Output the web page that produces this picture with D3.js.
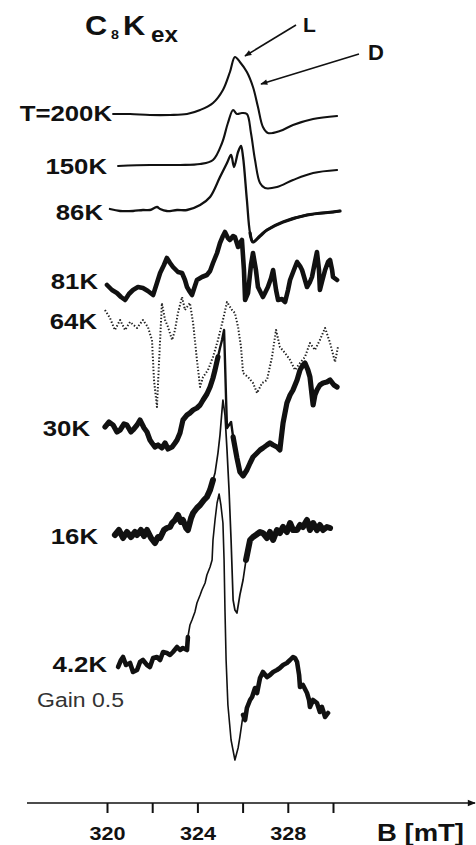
<!DOCTYPE html>
<html>
<head>
<meta charset="utf-8">
<script src="https://cdn.jsdelivr.net/npm/d3@7"></script>
<style>
  html, body { margin: 0; padding: 0; background: #fff; }
  svg { display: block; }
  text { font-family: "Liberation Sans", Arial, Helvetica, sans-serif; fill: #111; }
</style>
</head>
<body>
<svg id="chart" width="476" height="845"></svg>
<script>
// ---- ESR spectra of C8Kex at several temperatures ----
// Each trace: [B (mT), signal (a.u.) relative to its own baseline]

const tempLabels = ["T=200K", "150K", "86K", "81K", "64K", "30K", "16K", "4.2K"];
const baselineOffsets = [67.6, 62.4, 58.0, 50.5, 47.0, 36.3, 25.5, 12.5];

const trace200K = [
  [320.27,0],[321.02,0],[321.90,-0.1],[322.79,-0.1],[323.54,0],[324.12,0.4],[324.69,1.1],
  [325.13,2.4],[325.44,4.2],[325.66,5.7],[325.88,5.2],[326.19,4.2],[326.46,2.7],[326.68,0.7],
  [326.90,-1.3],[327.12,-1.9],[327.65,-1.7],[328.23,-1.1],[329.12,-0.5],[330.18,-0.2]
];

const trace150K = [
  [320.49,0],[321.90,0.1],[323.23,0.1],[324.12,0.2],[324.69,0.6],[325.09,2.3],[325.35,4.3],
  [325.58,5.6],[325.75,5.2],[325.97,5.3],[326.19,5.2],[326.37,3.3],[326.55,0.6],[326.77,-1.7],
  [326.99,-2.2],[327.52,-2.1],[328.23,-1.4],[329.12,-0.7],[330.18,-0.4]
];

const trace86K = [
  [320.13,0.1],[320.58,-0.1],[321.15,-0.1],[321.59,0],[321.90,0],[322.21,0.3],[322.35,0.1],
  [322.65,-0.1],[323.10,0],[323.54,0],[324.12,0.5],[324.56,1.3],[325.00,3.3],[325.31,4.7],
  [325.49,5.5],[325.62,4.3],[325.80,5.8],[325.93,6.4],[326.02,5.3],[326.19,1.0],[326.33,-2.3],
  [326.46,-3.2],[326.77,-2.6],[327.08,-2.0],[327.79,-1.2],[328.85,-0.5],[330.00,-0.2],[330.31,-0.1]
];

const trace81K = [
  [320.00,0],[320.22,-0.5],[320.44,-0.8],[320.62,-1.2],[320.80,-1.5],[320.97,-0.9],[321.15,-0.5],
  [321.37,-0.2],[321.59,-0.3],[321.81,-0.6],[322.04,-1.0],[322.21,0.2],[322.35,1.2],[322.52,2.0],
  [322.65,2.7],[322.79,2.2],[322.92,1.8],[323.14,1.3],[323.32,1.2],[323.45,0.5],[323.54,-0.2],
  [323.67,-0.7],[323.76,-1.0],[323.89,-0.1],[323.98,0.5],[324.20,0.8],[324.42,1.0],[324.56,1.4],
  [324.69,2.2],[324.87,3.2],[325.00,4.2],[325.13,4.9],[325.22,5.3],[325.35,4.7],[325.44,4.5],
  [325.58,4.9],[325.66,4.8],[325.80,3.8],[325.88,4.2],[325.97,4.5],[326.06,1.5],[326.11,-1.5],
  [326.24,-0.8],[326.37,2.0],[326.46,3.2],[326.59,1.5],[326.68,-0.2],[326.90,-1.2],[326.99,-0.8],
  [327.12,-0.2],[327.26,0.7],[327.35,1.5],[327.48,-0.5],[327.57,-1.5],[327.74,-1.4],[327.88,-1.7],
  [328.01,-0.5],[328.10,0.5],[328.27,1.5],[328.41,2.3],[328.54,1.9],[328.63,1.5],[328.76,0.5],
  [328.85,-0.2],[328.98,0.3],[329.07,0.8],[329.20,2.3],[329.29,3.3],[329.38,1.5],[329.42,-0.5],
  [329.51,0.3],[329.65,1.5],[329.78,2.3],[329.87,2.5],[329.96,1.5],[330.00,0.8],[330.18,0.5]
];

const trace64K = [
  [319.91,1.0],[320.13,0.2],[320.35,-1.0],[320.58,0],[320.80,-1.0],[321.02,-0.2],[321.33,-0.8],
  [321.59,0],[321.81,-0.7],[321.99,-2.0],[322.08,-6.0],[322.21,-8.7],[322.30,-4.3],[322.43,1.7],
  [322.57,0],[322.70,-0.7],[322.88,-2.0],[323.01,-1.0],[323.14,0.7],[323.32,2.3],[323.45,1.0],
  [323.67,1.7],[323.81,-0.3],[323.98,-4.0],[324.12,-6.7],[324.25,-5.7],[324.47,-5.0],[324.69,-3.7],
  [324.91,-2.0],[325.13,0],[325.31,1.8],[325.53,1.0],[325.66,0.7],[325.80,-0.7],[325.93,-2.7],
  [326.02,-5.3],[326.24,-5.7],[326.46,-6.3],[326.64,-7.3],[326.86,-6.3],[327.08,-6.0],[327.30,-3.7],
  [327.48,-1.0],[327.65,-2.7],[327.88,-3.3],[328.10,-4.0],[328.32,-5.0],[328.54,-4.3],[328.76,-3.7],
  [328.98,-2.3],[329.20,-3.0],[329.42,-2.0],[329.65,-0.8],[329.87,-2.3],[330.09,-4.2],[330.22,-2.7]
];

const trace30K = [
  [319.91,0],[320.09,0.5],[320.27,0.2],[320.44,-0.5],[320.58,-0.3],[320.75,0.3],[320.88,0.2],
  [321.06,-0.5],[321.15,-0.3],[321.33,0.2],[321.46,0.7],[321.64,-0.1],[321.77,-0.5],[321.90,-1.3],
  [321.99,-1.6],[322.12,-2.0],[322.26,-1.8],[322.43,-2.1],[322.57,-1.6],[322.70,-2.2],[322.88,-2.0],
  [323.01,-1.6],[323.10,-1.3],[323.23,-0.6],[323.36,0.7],[323.54,1.2],[323.67,1.4],[323.81,1.7],
  [323.98,1.9],[324.12,2.2],[324.25,2.7],[324.42,3.3],[324.56,4.0],[324.69,4.9],[324.78,5.7],
  [324.91,7.0],[325.00,7.9],[325.09,8.7],[325.18,9.7],[325.22,6.7],[325.27,2.7],[325.31,-0.1],
  [325.40,0.2],[325.49,0.5],[325.58,-1.0],[325.75,-3.1],[325.88,-4.5],[326.02,-4.9],[326.19,-4.3],
  [326.33,-3.6],[326.46,-3.0],[326.64,-2.6],[326.77,-2.3],[326.90,-2.1],[327.08,-1.8],[327.21,-1.6],
  [327.35,-1.8],[327.52,-2.0],[327.65,-2.3],[327.70,-1.3],[327.79,0.4],[327.96,2.4],[328.10,3.2],
  [328.23,3.7],[328.41,4.7],[328.54,5.7],[328.67,6.2],[328.76,6.4],[328.89,5.7],[328.98,5.0],
  [329.07,3.2],[329.12,2.2],[329.20,3.2],[329.29,3.7],[329.42,4.2],[329.56,4.4],[329.73,4.5],
  [329.87,4.7],[330.04,4.2],[330.18,4.0]
];

const trace16K = [
  [320.35,0],[320.53,0.5],[320.71,-0.3],[320.88,0.3],[321.06,-0.2],[321.24,0.3],[321.33,0],
  [321.50,0.5],[321.64,-0.1],[321.77,0.5],[321.95,-0.3],[322.12,-0.8],[322.26,-0.2],[322.35,-0.3],
  [322.52,0.5],[322.65,0.7],[322.79,0.8],[322.88,1.2],[323.01,1.5],[323.14,2.0],[323.27,1.3],
  [323.36,1.5],[323.50,0.7],[323.58,0.5],[323.72,1.7],[323.81,2.2],[323.98,2.7],[324.12,3.0],
  [324.29,3.5],[324.42,3.8],[324.56,4.5],[324.69,5.5],[324.78,6.2],[324.91,8.2],[325.00,10.0],
  [325.09,12.5],[325.13,13.5],[325.22,12.0],[325.31,8.5],[325.40,4.5],[325.49,-0.5],[325.58,-6.5],
  [325.66,-7.5],[325.75,-7.8],[325.88,-6.0],[326.02,-4.5],[326.15,-2.5],[326.24,-1.5],[326.33,-0.5],
  [326.46,-0.2],[326.59,0],[326.77,0.3],[326.90,0.2],[327.08,-0.3],[327.21,0.3],[327.35,-0.5],
  [327.52,0.5],[327.65,0.2],[327.79,0.8],[327.96,0.3],[328.10,1.2],[328.23,0.5],[328.41,0.5],
  [328.54,1.0],[328.67,0.8],[328.85,1.5],[328.98,0.5],[329.12,1.2],[329.29,0.5],[329.42,1.0],
  [329.56,0.5],[329.73,0.8],[329.87,0.7]
];

const trace4K = [
  [320.49,-0.2],[320.62,0.5],[320.71,0.8],[320.84,0],[321.02,0.2],[321.15,-0.7],[321.33,-0.5],
  [321.46,0.3],[321.59,0.5],[321.77,0],[321.90,-0.2],[322.04,0.7],[322.21,0.8],[322.35,0.5],
  [322.48,1.3],[322.65,1.2],[322.79,1.0],[322.92,1.3],[323.10,1.8],[323.23,1.5],[323.36,1.7],
  [323.54,1.5],[323.58,2.8],[323.67,4.0],[323.76,4.5],[323.89,5.3],[323.98,6.2],[324.12,7.0],
  [324.20,7.5],[324.34,8.2],[324.42,9.0],[324.56,9.8],[324.65,10.5],[324.69,12.5],[324.78,14.5],
  [324.87,16.2],[324.96,17.1],[325.04,16.0],[325.13,14.2],[325.18,10.5],[325.22,5.5],[325.27,0.5],
  [325.35,-4.0],[325.49,-7.5],[325.66,-9.5],[325.80,-8.3],[325.88,-7.2],[326.02,-5.0],[326.11,-5.5],
  [326.19,-4.3],[326.33,-3.5],[326.42,-3.2],[326.55,-2.3],[326.64,-2.8],[326.77,-1.3],[326.90,-0.7],
  [327.08,-1.2],[327.21,-1.0],[327.35,-0.7],[327.52,-0.5],[327.65,-0.3],[327.79,0],[327.96,0.2],
  [328.10,0.5],[328.23,0.8],[328.32,0.7],[328.41,0.3],[328.50,-1.0],[328.54,-2.2],[328.67,-2.0],
  [328.85,-2.8],[328.94,-3.5],[328.98,-4.2],[329.12,-3.5],[329.29,-3.8],[329.42,-4.7],[329.51,-4.2],
  [329.65,-5.2],[329.78,-4.8]
];

const traces = [trace200K, trace150K, trace86K, trace81K, trace64K, trace30K, trace16K, trace4K];

const fieldTicks = [320, 322, 324, 326, 328, 330];
const fieldTickLabels = [320, 324, 328];
const axisTitle = "B [mT]";
const gainNote = "Gain 0.5";

// ---- drawing styles (per trace) ----
const styles = [
  { w: 2.1, smooth: true },
  { w: 2.1, smooth: true },
  { w: 2.3, smooth: true, wide: 3.2, core: [320, 326.3] },
  { w: 4.6 },
  { w: 2.0, dash: "1.4 1.9", color: "#222" },
  { w: 2.4, wide: 5.2, core: [324.95, 325.5] },
  { w: 1.7, wide: 6.0, core: [324.75, 326.1] },
  { w: 1.6, wide: 4.6, core: [323.6, 325.9] }
];
const labelRight = [112, 107, 103, 98, 97, 90, 98, 107];
const labelNudge = [-1, 0, 2, -4, 1, 1, 1, -1];

const svg = d3.select("#chart");
svg.append("rect").attr("width", 476).attr("height", 845).attr("fill", "#fff");

const x = d3.scaleLinear().domain([320, 330]).range([107, 333]);
const y = d3.scaleLinear().domain([0, 78]).range([790, 10]);

// widen glyphs a little, matching the broad lettering of the plot
function stretch(sel, k) {
  sel.each(function () {
    const len = this.getComputedTextLength();
    d3.select(this).attr("textLength", len * k).attr("lengthAdjust", "spacingAndGlyphs");
  });
}

// arrow markers
const defs = svg.append("defs");
defs.append("marker").attr("id", "arrow").attr("viewBox", "0 0 10 10")
  .attr("refX", 9).attr("refY", 5).attr("markerWidth", 8).attr("markerHeight", 7)
  .attr("markerUnits", "userSpaceOnUse").attr("orient", "auto")
  .append("path").attr("d", "M0,1 L10,5 L0,9 Z").attr("fill", "#111");
defs.append("marker").attr("id", "axisArrow").attr("viewBox", "0 0 10 10")
  .attr("refX", 9).attr("refY", 5).attr("markerWidth", 9).attr("markerHeight", 8)
  .attr("markerUnits", "userSpaceOnUse").attr("orient", "auto")
  .append("path").attr("d", "M0,1 L10,5 L0,9 Z").attr("fill", "#111");

// ---- traces ----
const gTraces = svg.append("g").attr("fill", "none").attr("stroke-linejoin", "round").attr("stroke-linecap", "round");

traces.forEach((data, i) => {
  const st = styles[i];
  const pts = data.map(([b, s]) => [b, s + baselineOffsets[i]]);
  const line = d3.line()
    .x(d => x(d[0]))
    .y(d => y(d[1]))
    .curve(st.smooth ? d3.curveCatmullRom.alpha(0.5) : d3.curveLinear);

  const path = gTraces.append("path")
    .attr("d", line(pts))
    .attr("stroke", st.color || "#111")
    .attr("stroke-width", st.w);
  if (st.dash) path.attr("stroke-dasharray", st.dash).attr("stroke-linecap", "butt");

  if (st.wide) {
    const left = pts.filter(d => d[0] <= st.core[0]);
    const right = pts.filter(d => d[0] >= st.core[1]);
    [left, right].forEach(seg => {
      if (seg.length > 1) {
        gTraces.append("path").attr("d", line(seg))
          .attr("stroke", "#111").attr("stroke-width", st.wide);
      }
    });
  }
});

// ---- temperature labels ----
const gLabels = svg.append("g");
tempLabels.forEach((t, i) => {
  gLabels.append("text")
    .attr("x", labelRight[i])
    .attr("y", y(baselineOffsets[i]) + 8 + labelNudge[i])
    .attr("text-anchor", "end")
    .attr("font-size", 22)
    .attr("font-weight", "bold")
    .text(t);
});
stretch(gLabels.selectAll("text"), 1.17);

// gain note under the 4.2K trace
const gain = svg.append("text")
  .attr("x", 37).attr("y", 707)
  .attr("font-size", 20)
  .style("fill", "#333")
  .text(gainNote);
stretch(gain, 1.15);

// ---- title C8Kex ----
const gTitle = svg.append("g");
const titleParts = [
  { t: "C", x: 85, y: 35, fs: 28 },
  { t: "8", x: 111, y: 39, fs: 13 },
  { t: "K", x: 123, y: 35, fs: 28 },
  { t: "ex", x: 151, y: 42, fs: 22 }
];
titleParts.forEach(p => {
  gTitle.append("text").attr("x", p.x).attr("y", p.y)
    .attr("font-size", p.fs).attr("font-weight", "bold").text(p.t);
});
stretch(gTitle.selectAll("text"), 1.1);

// ---- L / D pointers ----
svg.append("text").attr("x", 303).attr("y", 32).attr("font-size", 21).attr("font-weight", "bold").text("L");
svg.append("text").attr("x", 368).attr("y", 60).attr("font-size", 22).attr("font-weight", "bold").text("D");
svg.append("line").attr("x1", 296).attr("y1", 25).attr("x2", 245).attr("y2", 56)
  .attr("stroke", "#111").attr("stroke-width", 1.6).attr("marker-end", "url(#arrow)");
svg.append("line").attr("x1", 359).attr("y1", 54).attr("x2", 261).attr("y2", 84)
  .attr("stroke", "#111").attr("stroke-width", 1.6).attr("marker-end", "url(#arrow)");

// ---- field axis ----
const axisY = 803;
svg.append("line").attr("x1", 27).attr("x2", 475).attr("y1", axisY).attr("y2", axisY)
  .attr("stroke", "#111").attr("stroke-width", 1.6).attr("marker-end", "url(#axisArrow)");

const axis = d3.axisBottom(x)
  .tickValues(fieldTicks)
  .tickSize(10)
  .tickFormat(d => fieldTickLabels.includes(d) ? String(d) : "");
const gAxis = svg.append("g").attr("transform", `translate(0,${axisY})`).call(axis);
gAxis.select(".domain").remove();
gAxis.selectAll(".tick line").attr("stroke", "#111").attr("stroke-width", 2);
gAxis.selectAll(".tick text")
  .attr("y", 24)
  .attr("font-size", 18)
  .attr("font-weight", "bold")
  .attr("font-family", "Liberation Sans, Arial, sans-serif")
  .style("fill", "#111");
stretch(gAxis.selectAll(".tick text").filter(function () { return this.textContent !== ""; }), 1.2);

const axLabel = svg.append("text")
  .attr("x", 377).attr("y", 841)
  .attr("font-size", 23).attr("font-weight", "bold")
  .attr("textLength", 87).attr("lengthAdjust", "spacingAndGlyphs")
  .text(axisTitle);
</script>
</body>
</html>
